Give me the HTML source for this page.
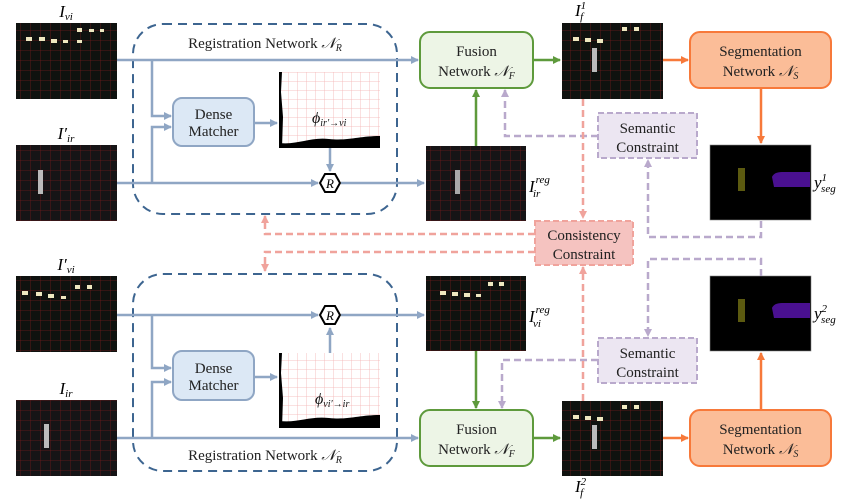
<!DOCTYPE html>
<html><head><meta charset="utf-8"><style>
html,body{margin:0;padding:0;background:#fff;}
svg{display:block;font-family:"Liberation Serif",serif;}
</style></head><body>
<svg width="867" height="503" viewBox="0 0 867 503" xmlns="http://www.w3.org/2000/svg">
<defs>
<pattern id="grid" width="10" height="10" patternUnits="userSpaceOnUse">
<rect width="10" height="10" fill="#0f120f"/>
<path d="M0 0H10M0 0V10" stroke="#6e1a1a" stroke-width="0.8"/>
</pattern>
<pattern id="gridir" width="10" height="10" patternUnits="userSpaceOnUse">
<rect width="10" height="10" fill="#161416"/>
<path d="M0 0H10M0 0V10" stroke="#6e1a1a" stroke-width="0.8"/>
</pattern>
<pattern id="phi" width="9" height="9" patternUnits="userSpaceOnUse">
<rect width="9" height="9" fill="#fff"/>
<path d="M0 0H9M0 0V9" stroke="#f4b0b0" stroke-width="0.8"/>
</pattern>
<marker id="ab" markerWidth="8" markerHeight="8" refX="7" refY="4" orient="auto" markerUnits="userSpaceOnUse"><path d="M0 0L8 4L0 8z" fill="#8fa6c4"/></marker>
<marker id="ag" markerWidth="8" markerHeight="8" refX="7" refY="4" orient="auto" markerUnits="userSpaceOnUse"><path d="M0 0L8 4L0 8z" fill="#5e9a3c"/></marker>
<marker id="ao" markerWidth="8" markerHeight="8" refX="7" refY="4" orient="auto" markerUnits="userSpaceOnUse"><path d="M0 0L8 4L0 8z" fill="#f7793a"/></marker>
<marker id="ap" markerWidth="8" markerHeight="8" refX="7" refY="4" orient="auto" markerUnits="userSpaceOnUse"><path d="M0 0L8 4L0 8z" fill="#f0a39c"/></marker>
<marker id="au" markerWidth="8" markerHeight="8" refX="7" refY="4" orient="auto" markerUnits="userSpaceOnUse"><path d="M0 0L8 4L0 8z" fill="#b9a9cc"/></marker>
</defs>

<rect x="133" y="24" width="264" height="190" rx="30" fill="none" stroke="#3d6590" stroke-width="2" stroke-dasharray="9 6"/>
<rect x="133" y="274" width="264" height="197" rx="30" fill="none" stroke="#3d6590" stroke-width="2" stroke-dasharray="9 6"/>
<text x="265" y="48" font-size="15" text-anchor="middle" fill="#222">Registration Network <tspan font-style="italic">𝒩</tspan><tspan font-size="10" dy="3" font-style="italic">R</tspan></text>
<text x="265" y="460" font-size="15" text-anchor="middle" fill="#222">Registration Network <tspan font-style="italic">𝒩</tspan><tspan font-size="10" dy="3" font-style="italic">R</tspan></text>

<g stroke="#8fa6c4" stroke-width="2.5" fill="none">
<path d="M117 60H418" marker-end="url(#ab)"/>
<path d="M152 60V116H171" marker-end="url(#ab)"/>
<path d="M152 183V127H171" marker-end="url(#ab)"/>
<path d="M117 183H318" marker-end="url(#ab)"/>
<path d="M341 183H424" marker-end="url(#ab)"/>
<path d="M254 123H277" marker-end="url(#ab)"/>
<path d="M330 148V171" marker-end="url(#ab)"/>
<path d="M117 315H318" marker-end="url(#ab)"/>
<path d="M341 315H424" marker-end="url(#ab)"/>
<path d="M152 315V368H171" marker-end="url(#ab)"/>
<path d="M152 438V382H171" marker-end="url(#ab)"/>
<path d="M117 438H418" marker-end="url(#ab)"/>
<path d="M254 377H277" marker-end="url(#ab)"/>
<path d="M330 353V328" marker-end="url(#ab)"/>
</g>

<rect x="173" y="98" width="81" height="48" rx="9" fill="#dce8f5" stroke="#8fa6c4" stroke-width="2"/>
<text x="213.5" y="119" font-size="15" text-anchor="middle" fill="#222">Dense</text>
<text x="213.5" y="136" font-size="15" text-anchor="middle" fill="#222">Matcher</text>
<rect x="173" y="351" width="81" height="49" rx="9" fill="#dce8f5" stroke="#8fa6c4" stroke-width="2"/>
<text x="213.5" y="373" font-size="15" text-anchor="middle" fill="#222">Dense</text>
<text x="213.5" y="390" font-size="15" text-anchor="middle" fill="#222">Matcher</text>

<rect x="279" y="72" width="101" height="76" fill="url(#phi)"/>
<path d="M279 148V143c20 2 30-6 50-4s30 -3 51 -3v12z" fill="#000"/>
<path d="M279 72h3l-1 20l2 25l-1 31h-3z" fill="#000"/>
<text x="312" y="123" font-size="16" font-style="italic" fill="#111">ϕ<tspan font-size="10" dy="3">ir′→vi</tspan></text>
<rect x="279" y="353" width="101" height="75" fill="url(#phi)"/>
<path d="M279 428V421c20 2 30-5 50-3s30-3 51-3v13z" fill="#000"/>
<path d="M279 353h3l-1 20l2 25l-1 30h-3z" fill="#000"/>
<text x="315" y="404" font-size="16" font-style="italic" fill="#111">ϕ<tspan font-size="10" dy="3">vi′→ir</tspan></text>

<g>
<path d="M320 183l5-9h10l5 9l-5 9h-10z" fill="#fff" stroke="#000" stroke-width="2"/>
<text x="330" y="188" font-size="13" font-style="italic" text-anchor="middle">R</text>
<path d="M320 315l5-9h10l5 9l-5 9h-10z" fill="#fff" stroke="#000" stroke-width="2"/>
<text x="330" y="320" font-size="13" font-style="italic" text-anchor="middle">R</text>
</g>

<rect x="16" y="23" width="101" height="76" fill="url(#grid)"/>
<g fill="#eee8c0"><rect x="26" y="37" width="6" height="4"/><rect x="39" y="37" width="6" height="4"/><rect x="51" y="39" width="6" height="4"/><rect x="63" y="40" width="5" height="3"/><rect x="77" y="40" width="5" height="3"/><rect x="77" y="28" width="5" height="4"/><rect x="89" y="29" width="5" height="3"/><rect x="100" y="29" width="4" height="3"/></g>
<rect x="16" y="145" width="101" height="76" fill="url(#gridir)"/>
<rect x="38" y="170" width="5" height="24" fill="#bbb"/>
<rect x="16" y="276" width="101" height="76" fill="url(#grid)"/>
<g fill="#eee8c0"><rect x="22" y="291" width="6" height="4"/><rect x="36" y="292" width="6" height="4"/><rect x="48" y="294" width="6" height="4"/><rect x="61" y="296" width="5" height="3"/><rect x="75" y="285" width="5" height="4"/><rect x="87" y="285" width="5" height="4"/></g>
<rect x="16" y="400" width="101" height="76" fill="url(#gridir)"/>
<rect x="44" y="424" width="5" height="24" fill="#bbb"/>

<text x="66" y="17" font-size="17" font-style="italic" text-anchor="middle">I<tspan font-size="11" dy="3">vi</tspan></text>
<text x="66" y="139" font-size="17" font-style="italic" text-anchor="middle">I′<tspan font-size="11" dy="3">ir</tspan></text>
<text x="66" y="270" font-size="17" font-style="italic" text-anchor="middle">I′<tspan font-size="11" dy="3">vi</tspan></text>
<text x="66" y="394" font-size="17" font-style="italic" text-anchor="middle">I<tspan font-size="11" dy="3">ir</tspan></text>

<rect x="426" y="146" width="100" height="75" fill="url(#gridir)"/>
<rect x="455" y="170" width="5" height="24" fill="#aaa"/>
<text x="529" y="192" font-size="17" font-style="italic">I<tspan font-size="11" dx="1" dy="-9">reg</tspan><tspan font-size="11" dx="-17" dy="14">ir</tspan></text>
<rect x="426" y="276" width="100" height="75" fill="url(#grid)"/>
<g fill="#eee8c0"><rect x="440" y="291" width="6" height="4"/><rect x="452" y="292" width="6" height="4"/><rect x="464" y="293" width="6" height="4"/><rect x="476" y="294" width="5" height="3"/><rect x="488" y="282" width="5" height="4"/><rect x="499" y="282" width="5" height="4"/></g>
<text x="529" y="322" font-size="17" font-style="italic">I<tspan font-size="11" dx="1" dy="-9">reg</tspan><tspan font-size="11" dx="-17" dy="14">vi</tspan></text>

<rect x="562" y="23" width="101" height="76" fill="url(#grid)"/>
<g fill="#eee8c0"><rect x="573" y="37" width="6" height="4"/><rect x="585" y="38" width="6" height="4"/><rect x="597" y="39" width="6" height="4"/><rect x="622" y="27" width="5" height="4"/><rect x="634" y="27" width="5" height="4"/></g>
<rect x="592" y="48" width="5" height="24" fill="#bbb"/>
<text x="575" y="16" font-size="17" font-style="italic">I<tspan font-size="11" dy="-7">1</tspan><tspan font-size="11" dx="-6" dy="11">f</tspan></text>
<rect x="562" y="401" width="101" height="75" fill="url(#grid)"/>
<g fill="#eee8c0"><rect x="573" y="415" width="6" height="4"/><rect x="585" y="416" width="6" height="4"/><rect x="597" y="417" width="6" height="4"/><rect x="622" y="405" width="5" height="4"/><rect x="634" y="405" width="5" height="4"/></g>
<rect x="592" y="425" width="5" height="24" fill="#bbb"/>
<text x="575" y="492" font-size="17" font-style="italic">I<tspan font-size="11" dy="-7">2</tspan><tspan font-size="11" dx="-6" dy="11">f</tspan></text>

<rect x="710" y="145" width="101" height="75" fill="#000" stroke="#888" stroke-width="0.6"/>
<rect x="738" y="168" width="7" height="23" fill="#5c5a10"/>
<path d="M772 177q2-5 10-5h28v15h-36z" fill="#4a1090"/>
<text x="814" y="188" font-size="17" font-style="italic">y<tspan font-size="11" dy="-7">1</tspan><tspan font-size="11" dx="-6" dy="11">seg</tspan></text>
<rect x="710" y="276" width="101" height="75" fill="#000" stroke="#888" stroke-width="0.6"/>
<rect x="738" y="299" width="7" height="23" fill="#5c5a10"/>
<path d="M772 308q2-5 10-5h28v15h-36z" fill="#4a1090"/>
<text x="814" y="319" font-size="17" font-style="italic">y<tspan font-size="11" dy="-7">2</tspan><tspan font-size="11" dx="-6" dy="11">seg</tspan></text>

<g stroke="#5e9a3c" stroke-width="2.5" fill="none">
<path d="M476 146V90" marker-end="url(#ag)"/>
<path d="M533 60H560" marker-end="url(#ag)"/>
<path d="M476 351V408" marker-end="url(#ag)"/>
<path d="M533 438H560" marker-end="url(#ag)"/>
</g>
<rect x="420" y="32" width="113" height="56" rx="10" fill="#edf5e6" stroke="#5e9a3c" stroke-width="2"/>
<text x="476.5" y="56" font-size="15" text-anchor="middle" fill="#222">Fusion</text>
<text x="476.5" y="76" font-size="15" text-anchor="middle" fill="#222">Network <tspan font-style="italic">𝒩</tspan><tspan font-size="10" dy="3" font-style="italic">F</tspan></text>
<rect x="420" y="410" width="113" height="56" rx="10" fill="#edf5e6" stroke="#5e9a3c" stroke-width="2"/>
<text x="476.5" y="434" font-size="15" text-anchor="middle" fill="#222">Fusion</text>
<text x="476.5" y="454" font-size="15" text-anchor="middle" fill="#222">Network <tspan font-style="italic">𝒩</tspan><tspan font-size="10" dy="3" font-style="italic">F</tspan></text>

<g stroke="#f7793a" stroke-width="2.5" fill="none">
<path d="M663 60H688" marker-end="url(#ao)"/>
<path d="M761 88V143" marker-end="url(#ao)"/>
<path d="M663 438H688" marker-end="url(#ao)"/>
<path d="M761 410V353" marker-end="url(#ao)"/>
</g>
<rect x="690" y="32" width="141" height="56" rx="10" fill="#fbbd98" stroke="#f7793a" stroke-width="2"/>
<text x="760.5" y="56" font-size="15" text-anchor="middle" fill="#222">Segmentation</text>
<text x="760.5" y="76" font-size="15" text-anchor="middle" fill="#222">Network <tspan font-style="italic">𝒩</tspan><tspan font-size="10" dy="3" font-style="italic">S</tspan></text>
<rect x="690" y="410" width="141" height="56" rx="10" fill="#fbbd98" stroke="#f7793a" stroke-width="2"/>
<text x="760.5" y="434" font-size="15" text-anchor="middle" fill="#222">Segmentation</text>
<text x="760.5" y="454" font-size="15" text-anchor="middle" fill="#222">Network <tspan font-style="italic">𝒩</tspan><tspan font-size="10" dy="3" font-style="italic">S</tspan></text>

<g stroke="#b9a9cc" stroke-width="2.5" fill="none" stroke-dasharray="7 4">
<path d="M598 136H505V90" marker-end="url(#au)"/>
<path d="M761 221V237H648V160" marker-end="url(#au)"/>
<path d="M761 276V259H648V336" marker-end="url(#au)"/>
<path d="M598 360H502V408" marker-end="url(#au)"/>
</g>
<g stroke="#f0a39c" stroke-width="2.5" fill="none" stroke-dasharray="7 4">
<path d="M583 99V218" marker-end="url(#ap)"/>
<path d="M583 401V267" marker-end="url(#ap)"/>
<path d="M535 234H265V216" marker-end="url(#ap)"/>
<path d="M535 252H265V271" marker-end="url(#ap)"/>
</g>

<rect x="598" y="113" width="99" height="45" fill="#ece6f2" stroke="#b9a9cc" stroke-width="2" stroke-dasharray="6 3"/>
<text x="647.5" y="133" font-size="15" text-anchor="middle" fill="#222">Semantic</text>
<text x="647.5" y="152" font-size="15" text-anchor="middle" fill="#222">Constraint</text>
<rect x="598" y="338" width="99" height="45" fill="#ece6f2" stroke="#b9a9cc" stroke-width="2" stroke-dasharray="6 3"/>
<text x="647.5" y="358" font-size="15" text-anchor="middle" fill="#222">Semantic</text>
<text x="647.5" y="377" font-size="15" text-anchor="middle" fill="#222">Constraint</text>
<rect x="535" y="221" width="98" height="44" fill="#f5c3c0" stroke="#f0a39c" stroke-width="2" stroke-dasharray="6 3"/>
<text x="584" y="240" font-size="15" text-anchor="middle" fill="#222">Consistency</text>
<text x="584" y="259" font-size="15" text-anchor="middle" fill="#222">Constraint</text>
</svg>
</body></html>
